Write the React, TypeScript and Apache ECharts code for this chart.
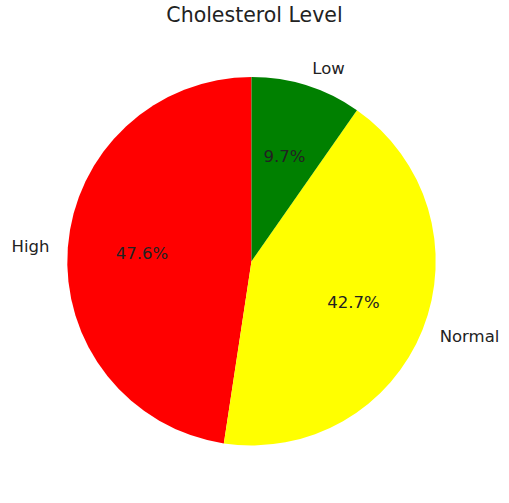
import React, { useEffect, useRef } from "react";
import * as echarts from "echarts";

const categories = ["High", "Normal", "Low"];
const percents = [47.6, 42.7, 9.7];
const colors = ["#ff0000", "#ffff00", "#008000"];

const CX = 251.5;
const CY = 261.3;
const R = 184.2;

export default function App() {
  const ref = useRef<HTMLDivElement>(null);
  useEffect(() => {
    document.body.style.margin = "0";
    const chart = echarts.init(ref.current!, null, { renderer: "svg" });
    const data = categories.map((name, i) => ({
      name,
      value: percents[i],
      itemStyle: { color: colors[i] },
    }));
    chart.setOption({
      animation: false,
      backgroundColor: "#ffffff",
      title: {
        text: "Cholesterol Level",
        left: "center",
        top: 4,
        padding: [0, 9, 0, 0],
        textStyle: {
          fontFamily: "DejaVu Sans",
          fontWeight: "normal",
          fontSize: 20.5,
          color: "#222",
        },
      },
      series: [
        {
          type: "pie",
          center: [CX, CY],
          radius: [0, R],
          startAngle: 90,
          clockwise: false,
          avoidLabelOverlap: false,
          silent: true,
          data,
          label: {
            show: true,
            position: "outside",
            formatter: "{b}",
            fontFamily: "DejaVu Sans",
            fontSize: 16.5,
            color: "#222",
            padding: [6, 0, 0, 0],
            distanceToLabelLine: 0,
          },
          labelLine: { show: false, length: R * 0.1, length2: 0 },
        },
        {
          type: "pie",
          center: [CX, CY],
          radius: [0, R * 1.16],
          startAngle: 90,
          clockwise: false,
          avoidLabelOverlap: false,
          silent: true,
          z: 3,
          data: categories.map((name, i) => ({
            name,
            value: percents[i],
            itemStyle: { color: "rgba(0,0,0,0)" },
          })),
          label: {
            show: true,
            position: "inside",
            formatter: (p: any) => p.value.toFixed(1) + "%",
            fontFamily: "DejaVu Sans",
            fontSize: 16.5,
            color: "#222",
            padding: [4, 0, 0, 0],
          },
          labelLine: { show: false },
        },
      ],
    });
    return () => chart.dispose();
  }, []);
  return <div ref={ref} style={{ width: 509, height: 503 }} />;
}
